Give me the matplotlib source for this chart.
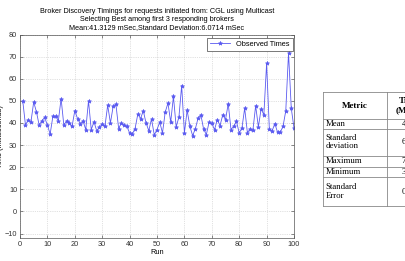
import matplotlib
matplotlib.use('Agg')
import matplotlib.pyplot as plt
import numpy as np

# data
times = [50, 39, 41.5, 40.5, 49.5, 45, 39, 41, 42.5, 39,
         35, 43, 43, 41, 51, 39, 41, 40, 38.5, 45.5,
         42, 39.5, 41, 37, 50, 37, 40.5, 36.5, 38, 39.5,
         38.5, 48, 40, 47.5, 48.5, 37.5, 40, 39, 38.5, 35.5,
         35, 37.5, 44, 42, 45.5, 40, 36.5, 41.8, 34.6, 37,
         40.4, 35.5, 44.9, 49, 40.4, 52, 38.2, 42.7, 56.9, 35.5,
         45.7, 38.5, 34.3, 37.4, 42.2, 43.7, 37.3, 34.7, 40.3, 39.8,
         37, 41.5, 38.8, 43.7, 41.5, 48.7, 37, 38.5, 40.7, 35.5,
         37.7, 46.7, 35.5, 37.4, 36.7, 47.8, 38.2, 46.4, 43.7, 66.9,
         37.3, 36.4, 39.7, 35.8, 35.8, 38.5, 45.5, 71.7, 46.7, 37.7]
runs = np.arange(1, len(times) + 1)

metrics = ['Mean', 'Standard\ndeviation', 'Maximum', 'Minimum', 'Standard\nError']
metric_vals = ['41.31', '6.07', '71.7', '34.3', '0.61']

W, H = 405, 261
fig = plt.figure(figsize=(W / 100, H / 100), dpi=100)
plt.rcParams['font.family'] = ['Liberation Sans', 'DejaVu Sans']

# ---- chart
ax = fig.add_axes([20 / W, 1 - 238 / H, 274 / W, (238 - 34.5) / H])
ax.plot(runs, times, '-*', color='#5a5af0', lw=0.6, ms=3, mew=0.5,
        label='Observed Times')
ax.set_xlim(0, 100)
ax.set_ylim(-12, 80)
ax.set_xticks(np.arange(0, 101, 10))
ax.set_yticks(np.arange(-10, 81, 10))
ax.tick_params(direction='in', length=2, width=0.4, labelsize=5.3, pad=2,
               top=True, right=True, colors='#333333')
ax.grid(True, ls=':', lw=0.5, color='#c4c4c4')
for s in ax.spines.values():
    s.set_linewidth(0.5)
    s.set_color('#555555')
ax.set_xlabel('Run', fontsize=5.3, labelpad=1)
ax.set_ylabel('Time (milliseconds)', fontsize=5.3)
ax.yaxis.set_label_coords(-0.058, 0.5)
ax.set_title('Broker Discovery Timings for requests initiated from: CGL using Multicast\n'
             'Selecting Best among first 3 responding brokers\n'
             'Mean:41.3129 mSec,Standard Deviation:6.0714 mSec',
             fontsize=5.2, linespacing=1.15, pad=4)
leg = ax.legend(loc='upper right', bbox_to_anchor=(0.995, 0.985), borderaxespad=0,
                fontsize=5.3, fancybox=False, framealpha=1, handlelength=2.8,
                borderpad=0.4)
leg.get_frame().set_linewidth(0.5)
leg.get_frame().set_edgecolor('#444444')

# ---- table (pixel coordinates overlay)
tab = fig.add_axes([0, 0, 1, 1])
tab.set_xlim(0, W)
tab.set_ylim(H, 0)
tab.axis('off')
rows = [92, 119, 128.5, 156, 166.5, 177, 206]
x0, x1, x2 = 323.3, 386.7, 460
lc = '#888888'
for y in rows:
    tab.plot([x0, x2], [y, y], color=lc, lw=0.6)
for x in (x0, x1):
    tab.plot([x, x], [rows[0], rows[-1]], color=lc, lw=0.6)
serif = ['Liberation Serif', 'DejaVu Serif']
tab.text((x0 + x1) / 2, (rows[0] + rows[1]) / 2, 'Metric', family=serif,
         fontsize=6.5, weight='bold', ha='center', va='center')
tab.text(409, (rows[0] + rows[1]) / 2, 'Time\n(Msec)', family=serif,
         fontsize=6.5, weight='bold', ha='center', va='center', linespacing=1.1)
for i, (m, v) in enumerate(zip(metrics, metric_vals)):
    yc = (rows[i + 1] + rows[i + 2]) / 2
    tab.text(x0 + 2, yc, m, family=serif, fontsize=6.3, ha='left',
             va='center', linespacing=1.05)
    tab.text(401.5, yc, v, family=serif, fontsize=6.3, ha='left', va='center')

fig.savefig('out.png', dpi=100)
